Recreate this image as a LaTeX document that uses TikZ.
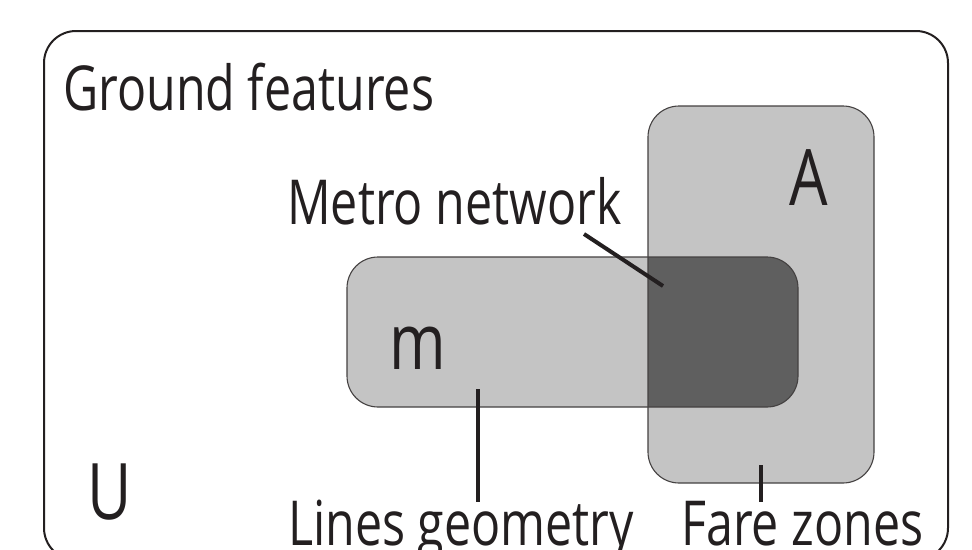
\documentclass[tikz,border=0pt]{standalone}
\usepackage{fontspec}
\setmainfont{Open Sans}[FakeStretch=0.78]
\definecolor{lightfill}{HTML}{C4C4C4}
\definecolor{darkfill}{HTML}{5F5F5F}
\definecolor{inkc}{HTML}{231F20}
\begin{document}
\begin{tikzpicture}[x=1pt,y=-1pt,
  setbox/.style={draw=inkc!85, line width=1.1pt, rounded corners=31pt},
  leader/.style={draw=inkc, line width=4pt},
  lbltext/.style={anchor=base west, inner sep=0pt, text=inkc, font=\fontsize{62}{62}\selectfont},
  lettertext/.style={anchor=base west, inner sep=0pt, text=inkc, font=\fontsize{78}{78}\selectfont}]
\useasboundingbox (0,0) rectangle (972,549);
% universe
\draw[draw=inkc, line width=2pt, rounded corners=32pt] (44,31) rectangle (948,560);
% fills
\fill[lightfill, rounded corners=31pt] (648,106) rectangle (874,483);
\fill[lightfill, rounded corners=31pt] (347,257) rectangle (798,407);
\begin{scope}
  \clip[rounded corners=31pt] (648,106) rectangle (874,483);
  \fill[darkfill, rounded corners=31pt] (347,257) rectangle (798,407);
\end{scope}
% borders
\draw[setbox] (648,106) rectangle (874,483);
\draw[setbox] (347,257) rectangle (798,407);
% texts
\node[lbltext] (gf) at (63,110) {Ground features};
\node[lbltext] (mn) at (287,224) {Metro network};
\node[lbltext] (lg) at (288,545) {Lines geometry};
\node[lbltext] (fz) at (681,545) {Fare zones};
\node[lettertext] (A) at (789,205) {A};
\node[lettertext] (m) at (389,369) {m};
\node[lettertext] (U) at (87,519) {U};
% leaders
\coordinate (mnS) at (584,234);
\coordinate (mnE) at (663,286);
\coordinate (lgS) at (478,389);
\coordinate (lgE) at (478,502);
\coordinate (fzS) at (761,465);
\coordinate (fzE) at (761,502);
\draw[leader] (mnS) -- (mnE);
\draw[leader] (lgS) -- (lgE);
\draw[leader] (fzS) -- (fzE);
\end{tikzpicture}
\end{document}
